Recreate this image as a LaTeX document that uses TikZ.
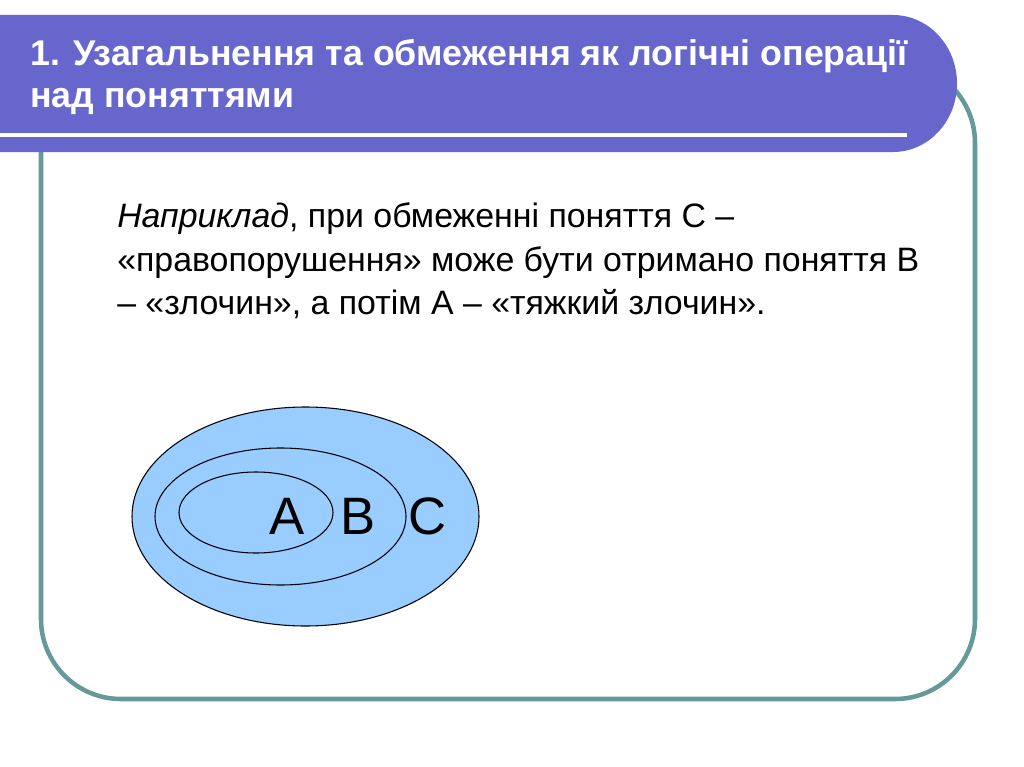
\documentclass[tikz,border=0pt]{standalone}
\usepackage{fontspec}
\setmainfont{Liberation Sans}
\definecolor{titlebar}{RGB}{102,102,204}
\definecolor{framec}{RGB}{102,153,153}
\definecolor{setfill}{RGB}{153,204,255}
\tikzset{
  titletext/.style={anchor=base west, inner sep=0pt, text=white, font=\fontsize{26.8}{32}\selectfont\bfseries},
  bodytext/.style={anchor=base west, inner sep=0pt, text=black, font=\fontsize{25.4}{30}\selectfont},
  setlabel/.style={anchor=base, inner sep=0pt, text=black, font=\fontsize{39.5}{44}\selectfont},
  setline/.style={draw=black, line width=0.8pt, fill=setfill}
}
\begin{document}
\begin{tikzpicture}[x=0.75pt,y=-0.75pt]
\useasboundingbox (0,0) rectangle (1024,767);
\fill[white] (0,0) rectangle (1024,767);
% frame
\draw[framec, line width=3.4pt, rounded corners=60pt] (41,63) rectangle (975,699);
% title bar
\fill[titlebar] (0,15) -- (893,15) arc[start angle=-90, end angle=90, x radius=64, y radius=68.5] -- (0,152) -- cycle;
\draw[white, line width=3pt] (0,135) -- (907,135);
\node[titletext] (t1) at (30,66) {1. Узагальнення та обмеження як логічні операції};
\node[titletext] (t2) at (30,108) {над поняттями};
% body
\node[bodytext] (b1) at (117,227) {\textit{Наприклад}, при обмеженні поняття С –};
\node[bodytext] (b2) at (117,271) {«правопорушення» може бути отримано поняття В};
\node[bodytext] (b3) at (117,314) {– «злочин», а потім А – «тяжкий злочин».};
% sets
\draw[setline] (305.5,516.5) ellipse [x radius=173.5, y radius=109.5];
\draw[setline] (280.5,516.5) ellipse [x radius=125.5, y radius=68.5];
\draw[setline] (256,512.5) ellipse [x radius=77, y radius=40.5];
\node[setlabel] (la) at (287,534) {A};
\node[setlabel] (lb) at (358,534) {B};
\node[setlabel] (lc) at (428,534) {C};
\end{tikzpicture}
\end{document}
